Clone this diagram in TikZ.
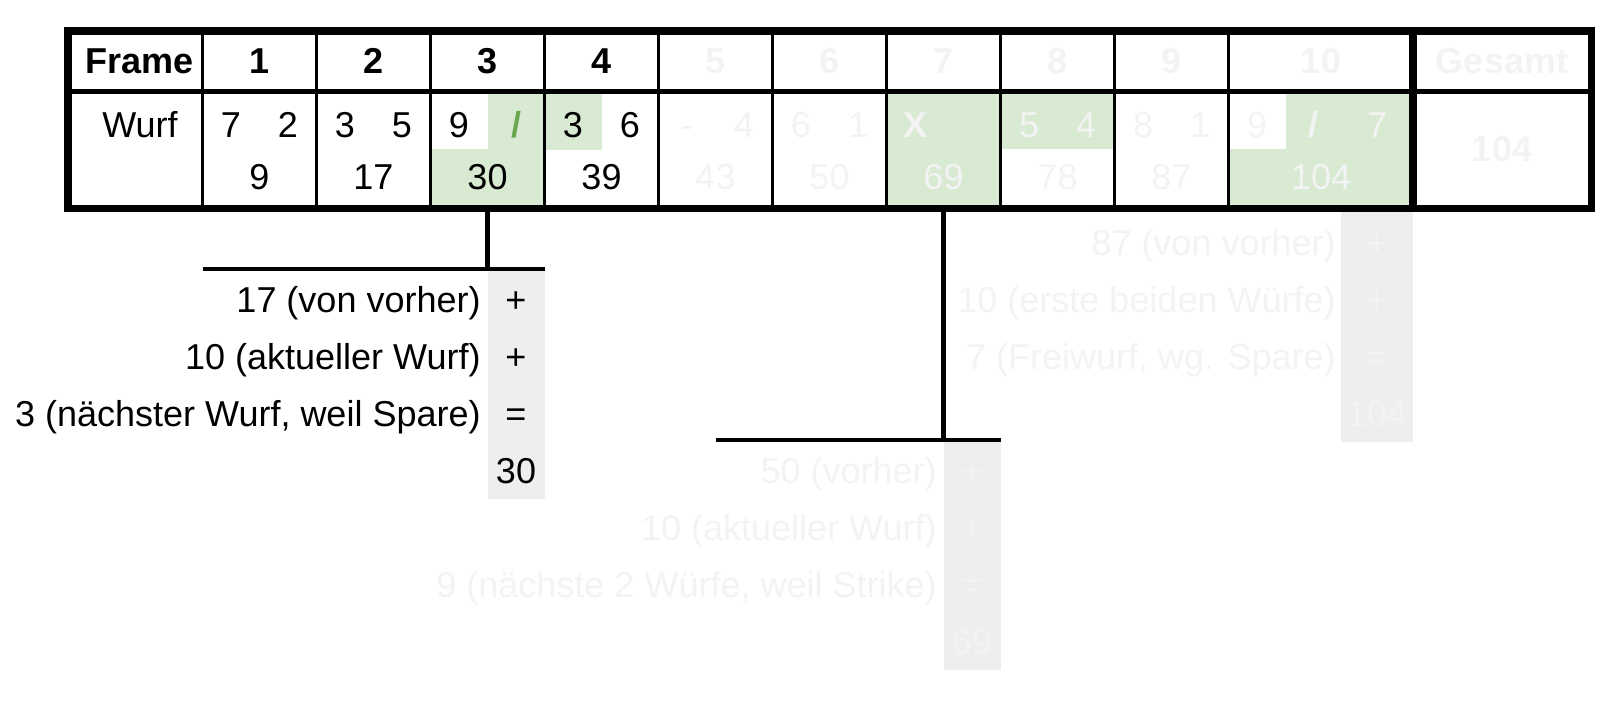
\documentclass[tikz,border=0pt]{standalone}
\usepackage{fontspec}
\setmainfont{Liberation Sans}
\definecolor{fadec}{HTML}{F3F3F3}
\definecolor{barc}{HTML}{EEEEEE}
\definecolor{greenc}{HTML}{D9EAD3}
\definecolor{slashc}{HTML}{6AA84F}
\newcommand{\fsz}{\fontsize{18}{21.6}\selectfont}
\begin{document}
\begin{tikzpicture}[x=0.5pt,y=-0.5pt,
  txt/.style={font=\fsz, inner sep=0pt, text height=12.9pt, text depth=0pt},
  btxt/.style={txt, font=\fsz\bfseries},
  faded/.style={text=fadec},
  rtxt/.style={txt, anchor=east},
  thinline/.style={line width=1.75pt},
  sepline/.style={line width=2.5pt},
  outerline/.style={line width=3.75pt},
  thickdiv/.style={line width=4pt},
  conn/.style={line width=2.2pt}]
\useasboundingbox (0,0) rectangle (1606,709);
% green highlights
\fill[greenc] (487.5,91.5) rectangle (544.5,149);
\fill[greenc] (430.5,149) rectangle (544.5,208.5);
\fill[greenc] (544.5,91.5) rectangle (601.5,150);
\fill[greenc] (886.5,91.5) rectangle (1000.5,208.5);
\fill[greenc] (1000.5,91.5) rectangle (1114.5,149);
\fill[greenc] (1285.5,91.5) rectangle (1413,149);
\fill[greenc] (1228.5,149) rectangle (1413,208.5);
% grey bars
\fill[barc] (487.5,271) rectangle (544.5,499);
\fill[barc] (943.5,442) rectangle (1000.5,670);
\fill[barc] (1341,212) rectangle (1413,442);
% grid
\foreach \i in {0,...,9} \draw[thinline] ({202.5+114*\i},31) -- ({202.5+114*\i},208.5);
\draw[sepline] (68,91.5) -- (1591.5,91.5);
\draw[thickdiv] (1413,31) -- (1413,208.5);
\draw[outerline] (68,31) rectangle (1591.5,208.5);
% header
\node[btxt] (hframe) at (140,61) {Frame};
\node[btxt] (h1) at (259.5,61) {1};
\node[btxt] (h2) at (373.5,61) {2};
\node[btxt] (h3) at (487.5,61) {3};
\node[btxt] (h4) at (601.5,61) {4};
\node[btxt,faded] (h5) at (715.5,61) {5};
\node[btxt,faded] (h6) at (829.5,61) {6};
\node[btxt,faded] (h7) at (943.5,61) {7};
\node[btxt,faded] (h8) at (1057.5,61) {8};
\node[btxt,faded] (h9) at (1171.5,61) {9};
\node[btxt,faded] (h10) at (1321,61) {10};
\node[btxt,faded] (hges) at (1502,61) {Gesamt};
% rolls
\node[txt] (wurf) at (140,125) {Wurf};
\node[txt] (r1a) at (231,125) {7};
\node[txt] (r1b) at (288,125) {2};
\node[txt] (t1) at (259.5,177) {9};
\node[txt] (r2a) at (345,125) {3};
\node[txt] (r2b) at (402,125) {5};
\node[txt] (t2) at (373.5,177) {17};
\node[txt] (r3a) at (459,125) {9};
\node[btxt,text=slashc] (r3b) at (516,125) {/};
\node[txt] (t3) at (487.5,177) {30};
\node[txt] (r4a) at (573,125) {3};
\node[txt] (r4b) at (630,125) {6};
\node[txt] (t4) at (601.5,177) {39};
\node[txt,faded] (r5a) at (687,125) {-};
\node[txt,faded] (r5b) at (744,125) {4};
\node[txt,faded] (t5) at (715.5,177) {43};
\node[txt,faded] (r6a) at (801,125) {6};
\node[txt,faded] (r6b) at (858,125) {1};
\node[txt,faded] (t6) at (829.5,177) {50};
\node[btxt,faded] (r7a) at (915,125) {X};
\node[txt,faded] (t7) at (943.5,177) {69};
\node[txt,faded] (r8a) at (1029,125) {5};
\node[txt,faded] (r8b) at (1086,125) {4};
\node[txt,faded] (t8) at (1057.5,177) {78};
\node[txt,faded] (r9a) at (1143,125) {8};
\node[txt,faded] (r9b) at (1200,125) {1};
\node[txt,faded] (t9) at (1171.5,177) {87};
\node[txt,faded] (r10a) at (1257,125) {9};
\node[btxt,faded] (r10b) at (1313,125) {/};
\node[txt,faded] (r10c) at (1377,125) {7};
\node[txt,faded] (t10) at (1321,177) {104};
\node[btxt,faded] (tges) at (1502,149) {104};
% connector frame 3
\coordinate (c3top) at (487.5,208.5);
\coordinate (c3mid) at (487.5,269);
\coordinate (c3l) at (202.5,269);
\coordinate (c3r) at (544.5,269);
\draw[conn] (c3top) -- (c3mid);
\draw[conn] (c3l) -- (c3r);
\node[rtxt] (e31) at (481,300) {17 (von vorher)};
\node[rtxt] (e32) at (481,357) {10 (aktueller Wurf)};
\node[rtxt] (e33) at (481,414) {3 (nächster Wurf, weil Spare)};
\node[txt] (o31) at (516,300) {+};
\node[txt] (o32) at (516,357) {+};
\node[txt] (o33) at (516,414) {=};
\node[txt] (o34) at (516,471) {30};
% connector frame 7
\coordinate (c7top) at (943.5,208.5);
\coordinate (c7mid) at (943.5,440);
\coordinate (c7l) at (715.5,440);
\coordinate (c7r) at (1000.5,440);
\draw[conn] (c7top) -- (c7mid);
\draw[conn] (c7l) -- (c7r);
\node[rtxt,faded] (e71) at (937,471) {50 (vorher)};
\node[rtxt,faded] (e72) at (937,528) {10 (aktueller Wurf)};
\node[rtxt,faded] (e73) at (937,585) {9 (nächste 2 Würfe, weil Strike)};
\node[txt,faded] (o71) at (972,471) {+};
\node[txt,faded] (o72) at (972,528) {+};
\node[txt,faded] (o73) at (972,585) {=};
\node[txt,faded] (o74) at (972,642) {69};
% frame 10 explanation
\node[rtxt,faded] (e101) at (1336,243) {87 (von vorher)};
\node[rtxt,faded] (e102) at (1336,300) {10 (erste beiden Würfe)};
\node[rtxt,faded] (e103) at (1336,357) {7 (Freiwurf, wg. Spare)};
\node[txt,faded] (o101) at (1377,243) {+};
\node[txt,faded] (o102) at (1377,300) {+};
\node[txt,faded] (o103) at (1377,357) {=};
\node[txt,faded] (o104) at (1377,414) {104};
\end{tikzpicture}
\end{document}
